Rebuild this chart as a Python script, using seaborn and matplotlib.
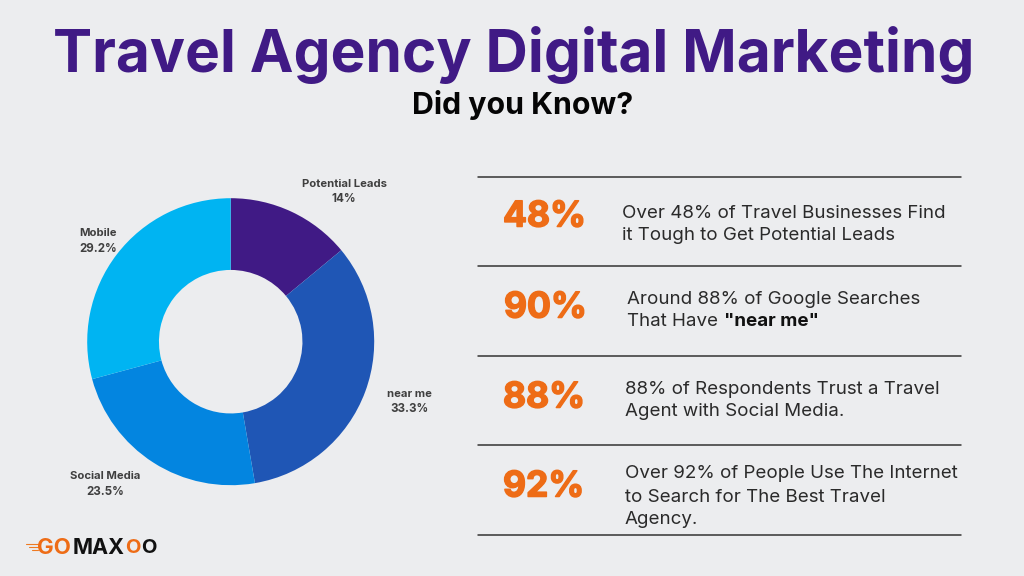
import matplotlib
matplotlib.use("Agg")
import matplotlib.pyplot as plt
import matplotlib.patheffects as pe
import seaborn as sns

categories = ["Potential Leads", "near me", "Social Media", "Mobile"]
shares = [14, 33.3, 23.5, 29.2]
share_labels = ["14%", "33.3%", "23.5%", "29.2%"]
stat_values = ["48%", "90%", "88%", "92%"]
stat_lines = [
    ["Over 48% of Travel Businesses Find", "it Tough to Get Potential Leads"],
    ["Around 88% of Google Searches", "That Have"],
    ["88% of Respondents Trust a Travel", "Agent with Social Media."],
    ["Over 92% of People Use The Internet", "to Search for The Best Travel", "Agency."],
]
title = "Travel Agency Digital Marketing"
subtitle = "Did you Know?"

BG = "#ECEDEF"
sns.set_theme(style="white", rc={"figure.facecolor": BG, "axes.facecolor": BG})
plt.rcParams["font.family"] = ["Inter", "DejaVu Sans"]
palette = sns.color_palette(["#401A85", "#1F56B5", "#0385E0", "#00B4F2"])

W, H = 1024, 576
fig = plt.figure(figsize=(W / 100, H / 100), dpi=100, facecolor=BG)


def T(x, y, s, **kw):
    kw.setdefault("va", "center")
    kw.setdefault("ha", "left")
    return fig.text(x / W, 1 - y / H, s, **kw)


# Donut
cx, cy, r = 230.7, 341.7, 143.5
ax = fig.add_axes([(cx - r) / W, 1 - (cy + r) / H, 2 * r / W, 2 * r / H])
ax.pie(shares, colors=palette, startangle=90, counterclock=False, radius=1,
       wedgeprops={"width": 0.5, "linewidth": 0})
ax.set_xlim(-1, 1)
ax.set_ylim(-1, 1)
ax.set_aspect("equal")
ax.axis("off")

# Donut labels
label_pos = [(344, 184, 199), (409, 394, 409), (105, 476, 492), (98, 233, 249)]
for name, val, (x, y1, y2) in zip(categories, share_labels, label_pos):
    T(x, y1, name, ha="center", fontsize=8.1, fontweight="bold", color="#3F3F3F")
    T(x, y2, val, ha="center", fontsize=8.3, fontweight="bold", color="#3F3F3F")

# Headings
T(514, 55, title, ha="center", fontsize=42.2, fontweight="bold", color="#401A85")
T(523, 105, subtitle, ha="center", fontsize=21.8, fontweight="bold", color="#050505")

# Rules
for y in [177, 266, 356, 445, 535]:
    fig.add_artist(plt.Line2D([478 / W, 961 / W], [1 - y / H] * 2, color="#333333", lw=1.1))

# Stats
stat_x = [503, 504, 503, 503]
stat_y = [217, 308, 398, 487]
text_x = [622, 627, 625, 625]
text_y = [[213, 235], [300, 322], [389, 411], [474, 498, 520]]
heavy = [pe.withStroke(linewidth=1.1, foreground="#EE6C16")]
for v, sx, sy, lines, tx, tys in zip(stat_values, stat_x, stat_y, stat_lines, text_x, text_y):
    T(sx, sy, v, fontsize=25.5, fontweight="bold", color="#EE6C16", path_effects=heavy)
    for line, ty in zip(lines, tys):
        T(tx, ty, line, fontsize=13.5, color="#2A2A2A")
T(724, 322, '"near me"', fontsize=13.5, fontweight="bold", color="#111111")

# Logo
for x0, x1, y in [(26, 38, 544), (29, 38, 547), (32, 38, 550)]:
    fig.add_artist(plt.Line2D([x0 / W, x1 / W], [1 - y / H] * 2, color="#EE7A22", lw=0.8))
T(37, 548, "GO", fontsize=16, fontweight="bold", color="#EE6C16")
T(73, 548, "MAX", fontsize=15.5, fontweight="bold", color="#111111")
T(125.5, 548, "O", fontsize=14.5, fontweight="bold", color="#EE6C16")
T(141, 548, "O", fontsize=14.5, fontweight="bold", color="#111111")

fig.savefig("out.png", dpi=100, facecolor=BG)
